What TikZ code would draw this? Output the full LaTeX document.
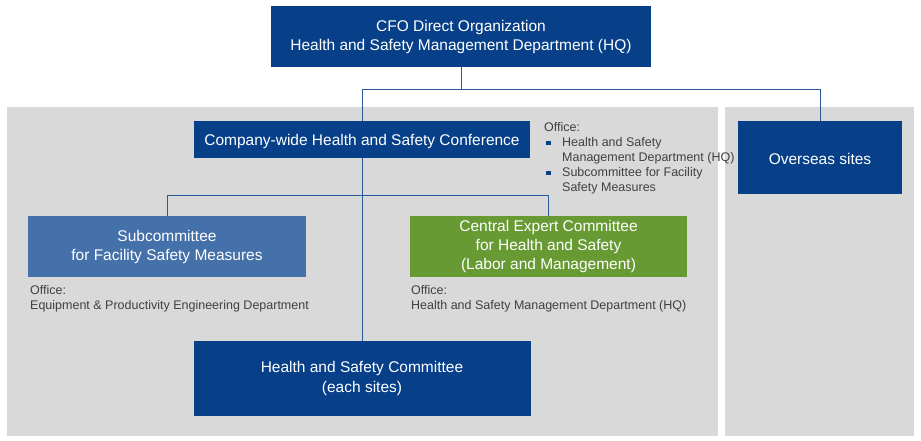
\documentclass[tikz,border=0pt]{standalone}
\usepackage{fontspec}
\setmainfont{Liberation Sans}
\usetikzlibrary{positioning}
\definecolor{orgblue}{HTML}{074089}
\definecolor{subblue}{HTML}{4571AA}
\definecolor{expertgreen}{HTML}{679A33}
\definecolor{panelgray}{HTML}{D9D9D9}
\definecolor{officetext}{HTML}{404040}
\definecolor{linkblue}{HTML}{2A5A9C}
\newcommand{\officebullet}{\makebox[18pt][l]{\hspace{2pt}\textcolor{orgblue}{\rule[1.6pt]{4.5pt}{4.5pt}}}}

\begin{document}
\begin{tikzpicture}[
  x=1pt, y=-1pt,
  orgbox/.style={rectangle, fill=orgblue, text=white, align=center, inner sep=0pt, font=\fontsize{15.5}{19}\selectfont, execute at begin node={\rule{0pt}{15pt}}},
  subbox/.style={orgbox, fill=subblue},
  expertbox/.style={orgbox, fill=expertgreen},
  officenote/.style={anchor=north west, inner sep=0pt, align=left, text=officetext, font=\fontsize{12.5}{15}\selectfont},
  link/.style={draw=linkblue, line width=0.9pt}
]
  \fill[white] (0,0) rectangle (921,441);
  \useasboundingbox (0,0) rectangle (921,441);

  % ==================== PANELS ====================
  \fill[panelgray] (7,107) rectangle (718,436);
  \fill[panelgray] (725,107) rectangle (914,436);

  % ==================== HQ ====================
  \node[orgbox, minimum width=380pt, minimum height=61pt] (cfo) at (461,36.5) {CFO Direct Organization\\Health and Safety Management Department (HQ)};

  % Conference and overseas
  \node[orgbox, minimum width=336pt, minimum height=37pt] (conference) at (362,139.5) {Company-wide Health and Safety Conference};
  \node[orgbox, minimum width=164pt, minimum height=73pt] (overseas) at (820,157.5) {Overseas sites};

  \node[officenote] (confOffice) at (544,121) {%
    \begin{tabular}{@{}l@{}}
      Office:\\
      \officebullet Health and Safety\\
      \hspace{18pt}Management Department (HQ)\\
      \officebullet Subcommittee for Facility\\
      \hspace{18pt}Safety Measures
    \end{tabular}};

  \draw[link] (cfo.south) -- ++(0,22) coordinate (hqsplit);
  \draw[link] (hqsplit) -| (conference.north);
  \draw[link] (hqsplit) -| (overseas.north);

  % ==================== COMMITTEES ====================
  \node[subbox, minimum width=278pt, minimum height=61pt] (subcommittee) at (167,246.5) {Subcommittee\\for Facility Safety Measures};
  \node[expertbox, minimum width=277pt, minimum height=61pt] (expert) at (548.5,246.5) {Central Expert Committee\\for Health and Safety\\(Labor and Management)};

  \node[officenote] (subOffice) at (30,285) {Office:\\Equipment \& Productivity Engineering Department};
  \node[officenote] (expertOffice) at (411,285) {Office:\\Health and Safety Management Department (HQ)};

  % Sites
  \node[orgbox, minimum width=337pt, minimum height=75pt, font=\fontsize{15.5}{20}\selectfont] (sites) at (362,378.5) {Health and Safety Committee\\(each sites)};

  \draw[link] (subcommittee.north) -- ++(0,-20) -| (expert.north);
  \draw[link] (conference.south) -- (sites.north);

\end{tikzpicture}
\end{document}
